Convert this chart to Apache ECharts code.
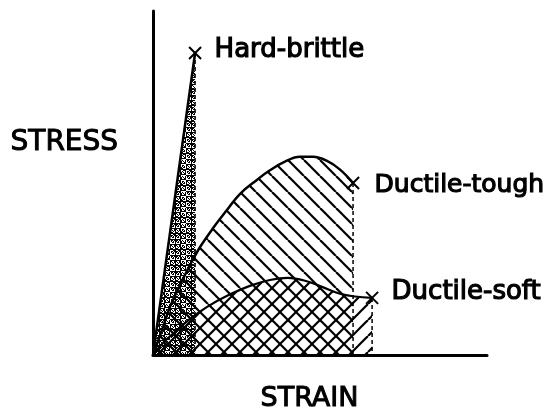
<!DOCTYPE html>
<html>
<head>
<meta charset="utf-8">
<script src="https://cdn.jsdelivr.net/npm/echarts@6/dist/echarts.min.js"></script>
<style>
html,body{margin:0;padding:0;background:#fff;}
#chart{width:545px;height:412px;}
</style>
</head>
<body>
<div id="chart"></div>
<script>
// ---- data (strain, stress in arbitrary units 0..100) ----
const hardBrittle = [[0, 0], [12.6, 87.8]];
const ductileTough = [[0, 0], [2.7, 7.3], [5.1, 14.0], [8.1, 20.3], [11.1, 26.2], [14.1, 31.4], [18.0, 36.9], [22.2, 42.2], [26.0, 46.8], [31.1, 50.9], [35.0, 53.7], [39.5, 56.2], [44.0, 57.6], [47.9, 57.6], [52.1, 56.4], [56.0, 53.9], [59.9, 50.0]];
const ductileSoft = [[0, 0], [3.0, 3.5], [6.6, 6.7], [11.1, 10.5], [16.2, 14.0], [22.2, 17.2], [29.0, 20.1], [35.0, 21.8], [40.4, 22.4], [45.5, 21.6], [50.6, 19.8], [56.0, 17.8], [60.5, 17.0], [65.6, 16.6]];
const curveNames = ['Hard-brittle', 'Ductile-tough', 'Ductile-soft'];
const xTitle = 'STRAIN';
const yTitle = 'STRESS';

// ---- textures ----
function hatch(dir, p, w) {
  const c = document.createElement('canvas');
  c.width = p; c.height = p;
  const g = c.getContext('2d');
  g.strokeStyle = '#000'; g.lineWidth = w;
  for (let k = -1; k <= 1; k++) {
    g.beginPath();
    if (dir === 'back') { g.moveTo(k * p, 0); g.lineTo(k * p + p, p); }
    else { g.moveTo(k * p, p); g.lineTo(k * p + p, 0); }
    g.stroke();
  }
  return c;
}
function stipple() {
  const s = 16;
  const c = document.createElement('canvas');
  c.width = s; c.height = s;
  const g = c.getContext('2d');
  g.fillStyle = '#000';
  for (let y = 0; y < s; y++) {
    for (let x = 0; x < s; x++) {
      const h = (x * 37 + y * 91 + x * y * 13) % 11;
      if (h < 6) g.fillRect(x, y, 1, 1);
    }
  }
  return c;
}
const backPat = { image: hatch('back', 16, 2.2), repeat: 'repeat' };
const fwdPat = { image: hatch('fwd', 16, 2.2), repeat: 'repeat' };
const dotPat = { image: stipple(), repeat: 'repeat' };

const curves = [hardBrittle, ductileTough, ductileSoft];
const ends = curves.map(c => c[c.length - 1]);
const labelOffsets = [[0, -3], [0, 2], [0, -6]];
const labelDist = [11, 13, 11];
const fonts = [26, 25, 26];

const chart = echarts.init(document.getElementById('chart'), null, { renderer: 'canvas' });
const axisCommon = {
  type: 'value', min: 0, max: 100,
  axisLine: { show: true, onZero: true, lineStyle: { color: '#000', width: 3 } },
  axisTick: { show: false }, axisLabel: { show: false }, splitLine: { show: false }
};
const series = [];
series.push({
  type: 'line', data: [hardBrittle[0], ends[0], [ends[0][0], 0]], symbol: 'none',
  lineStyle: { width: 0 }, areaStyle: { color: dotPat, opacity: 1 }, z: 3, silent: true
});
series.push({
  type: 'line', data: ductileTough, smooth: 0.4, symbol: 'none',
  lineStyle: { color: '#000', width: 2.5 }, areaStyle: { color: backPat, opacity: 1 }, z: 2
});
series.push({
  type: 'line', data: ductileSoft, smooth: 0.4, symbol: 'none',
  lineStyle: { color: '#000', width: 2.2 }, areaStyle: { color: fwdPat, opacity: 1 }, z: 2
});
series.push({
  type: 'line', data: hardBrittle, symbol: 'none',
  lineStyle: { color: '#000', width: 2.5 }, z: 4
});
ends.forEach(e => series.push({
  type: 'line', data: [e, [e[0], 0]], symbol: 'none',
  lineStyle: { color: '#000', width: 1.5, type: [4, 3] }, z: 4
}));
series.push({
  type: 'scatter', z: 6,
  symbol: 'path://M0,0L10,10M10,0L0,10', symbolSize: 12,
  itemStyle: { color: 'none', borderColor: '#000', borderWidth: 2, opacity: 1 },
  data: ends.map((e, i) => ({
    value: e,
    label: {
      show: true, position: 'right', distance: labelDist[i], offset: labelOffsets[i],
      formatter: curveNames[i], color: '#000', opacity: 1, fontSize: fonts[i],
      fontFamily: 'DejaVu Sans', textBorderColor: '#000', textBorderWidth: 1.2
    }
  }))
});

chart.setOption({
  animation: false,
  backgroundColor: '#fff',
  grid: { left: 153, right: 58, top: 11, bottom: 57 },
  xAxis: axisCommon,
  yAxis: axisCommon,
  graphic: [
    { type: 'text', left: 10, top: 128, style: { text: yTitle, font: '28px "DejaVu Sans"', fill: '#000', stroke: '#000', lineWidth: 1 } },
    { type: 'text', left: 260, top: 385, style: { text: xTitle, font: '27px "DejaVu Sans"', fill: '#000', stroke: '#000', lineWidth: 1 } }
  ],
  series: series
});
</script>
</body>
</html>
